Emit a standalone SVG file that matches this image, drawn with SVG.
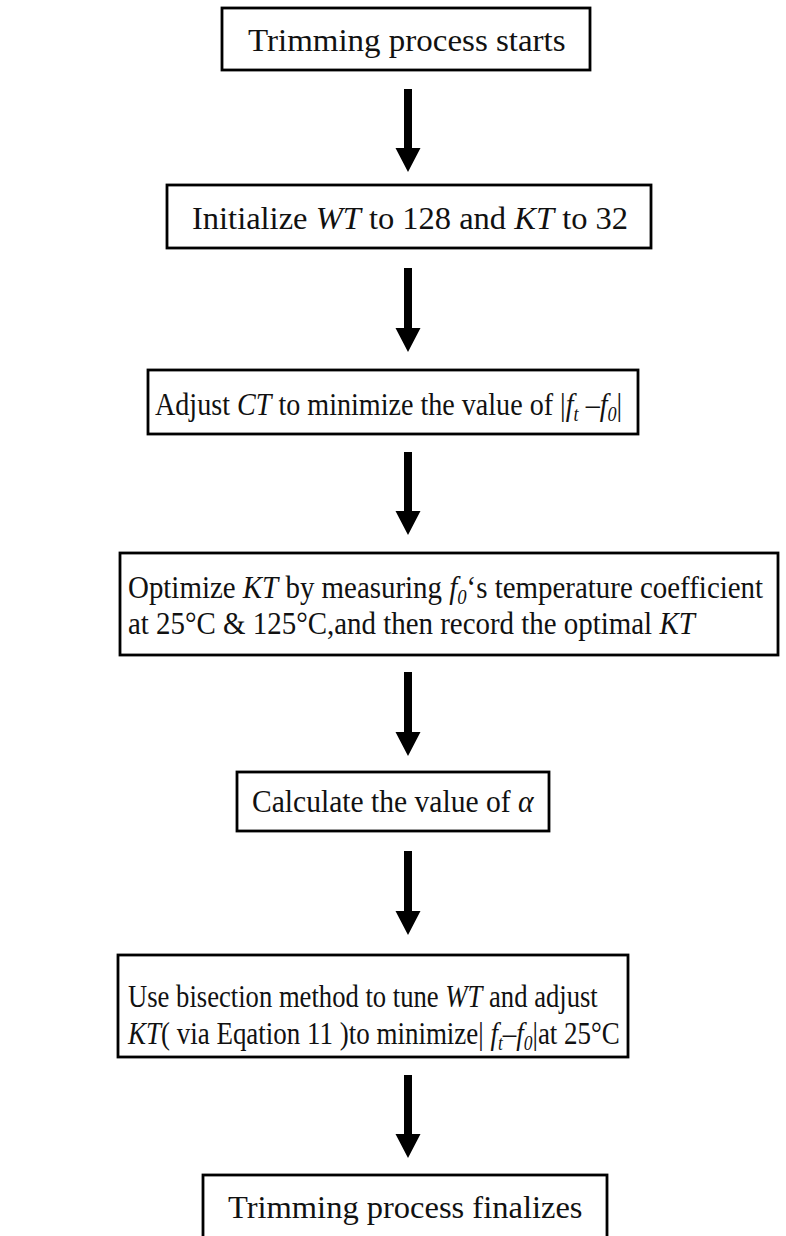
<svg xmlns="http://www.w3.org/2000/svg" width="786" height="1236" viewBox="0 0 786 1236">
<defs>
<style>
.box{fill:#fff;stroke:#000;stroke-width:2.8}
text{font-family:"Liberation Serif","Times New Roman",serif;font-size:32.5px;fill:#111}
.i{font-style:italic}
.s{font-style:italic;font-size:21px}
.arr{fill:#000}
</style>
</defs>
<rect width="786" height="1236" fill="#fff"/>
<g id="connectors">
<path class="arr" d="M404,89 H412 V148 H420.5 L408,172 L395.5,148 H404 Z"/>
<path class="arr" d="M404,268 H412 V328 H420.5 L408,352 L395.5,328 H404 Z"/>
<path class="arr" d="M404,452 H412 V511 H420.5 L408,535 L395.5,511 H404 Z"/>
<path class="arr" d="M404,672 H412 V732 H420.5 L408,756 L395.5,732 H404 Z"/>
<path class="arr" d="M404,851 H412 V911 H420.5 L408,935 L395.5,911 H404 Z"/>
<path class="arr" d="M404,1075 H412 V1134 H420.5 L408,1158 L395.5,1134 H404 Z"/>
</g>
<g id="n1"><rect class="box" x="222" y="8" width="368" height="62"/><text transform="translate(248,51) scale(1.015,1)">Trimming process starts</text></g>
<g id="n2"><rect class="box" x="167" y="185" width="484" height="63"/><text x="192" y="229">Initialize <tspan class="i">WT</tspan> to 128 and <tspan class="i">KT</tspan> to 32</text></g>
<g id="n3"><rect class="box" x="148" y="370" width="490" height="64"/><text transform="translate(155,415) scale(0.865,1)">Adjust <tspan class="i">CT</tspan> to minimize the value of |<tspan class="i">f</tspan><tspan class="s" dy="6">t</tspan><tspan dy="-6"> –</tspan><tspan class="i">f</tspan><tspan class="s" dy="6">0</tspan><tspan dy="-6">|</tspan></text></g>
<g id="n4"><rect class="box" x="120" y="553" width="658" height="102"/><text transform="translate(128,598) scale(0.89,1)">Optimize <tspan class="i">KT</tspan> by measuring <tspan class="i">f</tspan><tspan class="s" dy="6">0</tspan><tspan dy="-6">‘s temperature coefficient</tspan></text><text transform="translate(128,634) scale(0.89,1)">at 25°C &amp; 125°C,and then record the optimal <tspan class="i">KT</tspan></text></g>
<g id="n5"><rect class="box" x="237" y="772" width="312" height="59"/><text transform="translate(252,812) scale(0.91,1)">Calculate the value of <tspan class="i">α</tspan></text></g>
<g id="n6"><rect class="box" x="118" y="955" width="510" height="102"/><text transform="translate(128,1007) scale(0.82,1)">Use bisection method to tune <tspan class="i">WT</tspan> and adjust</text><text transform="translate(128,1044) scale(0.83,1)"><tspan class="i">KT</tspan>( via Eqation 11 )to minimize| <tspan class="i">f</tspan><tspan class="s" dy="6">t</tspan><tspan dy="-6">–</tspan><tspan class="i">f</tspan><tspan class="s" dy="6">0</tspan><tspan dy="-6">|at 25°C</tspan></text></g>
<g id="n7"><rect class="box" x="203" y="1175" width="404" height="80"/><text x="228" y="1218">Trimming process finalizes</text></g>
</svg>
